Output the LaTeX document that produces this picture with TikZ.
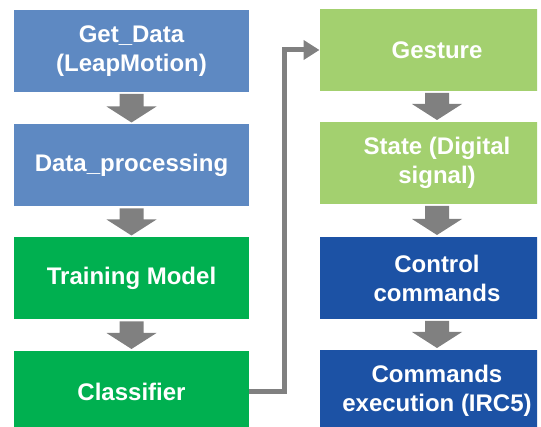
\documentclass[tikz,border=0pt]{standalone}
\usepackage{fontspec}
\setmainfont{Liberation Sans}
\usetikzlibrary{calc,arrows.meta}
\definecolor{lblue}{RGB}{94,137,194}
\definecolor{mgreen}{RGB}{0,176,80}
\definecolor{lgreen}{RGB}{163,208,111}
\definecolor{dblue}{RGB}{28,82,165}
\definecolor{arrgray}{RGB}{128,128,128}
\newcommand\blockarr[2]{%
  \fill[arrgray] let \p1=(#1.south), \p2=(#2.north) in
    (\x1-12pt,\y1-2pt) -- (\x1+12pt,\y1-2pt) -- (\x1+12pt,\y2+18pt) --
    (\x1+25pt,\y2+18pt) -- (\x1,\y2+2pt) -- (\x1-25pt,\y2+18pt) --
    (\x1-12pt,\y2+18pt) -- cycle;}
\begin{document}
\begin{tikzpicture}[x=1pt,y=-1pt,
  box/.style={minimum width=235pt,minimum height=82pt,inner sep=0pt,outer sep=0pt,
    text=white,font=\fontsize{24}{29}\selectfont\bfseries,align=center},
  conn/.style={draw=arrgray,line width=5pt,-{Triangle[length=16pt,width=19pt]}}]
\useasboundingbox (0,0) rectangle (541,427);
\begin{scope}
\clip (0,0) rectangle (537,427);
\node[box,fill=lblue] (gd) at (131.5,51) {Get\_Data\\(LeapMotion)};
\node[box,fill=lblue] (dp) at (131.5,165.5) {Data\_processing};
\node[box,fill=mgreen] (tm) at (131.5,278.5) {Training Model};
\node[box,fill=mgreen] (cl) at (131.5,392) {Classifier};
\node[box,fill=lgreen] (ge) at (437,50) {Gesture};
\node[box,fill=lgreen] (st) at (437,163) {State (Digital\\signal)};
\node[box,fill=dblue] (cc) at (437,278) {Control\\commands};
\node[box,fill=dblue] (ce) at (437,391) {Commands\\execution (IRC5)};
\end{scope}
\blockarr{gd}{dp}
\blockarr{dp}{tm}
\blockarr{tm}{cl}
\blockarr{ge}{st}
\blockarr{st}{cc}
\blockarr{cc}{ce}
\draw[conn] (cl.east) -- ++(35.5,0) |- (ge.west);
\end{tikzpicture}
\end{document}
